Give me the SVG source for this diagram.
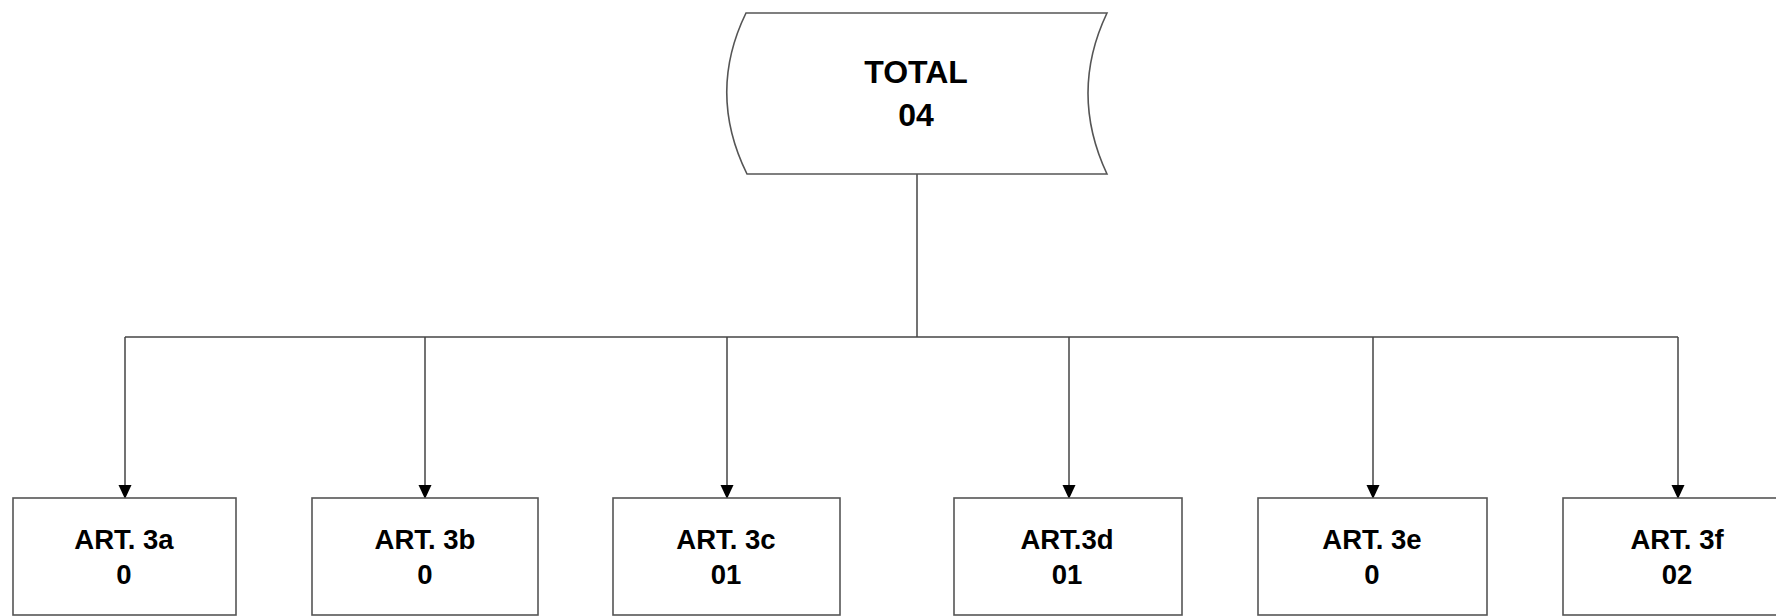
<svg xmlns="http://www.w3.org/2000/svg" width="1776" height="616" viewBox="0 0 1776 616">
<style>
.box{fill:#fff;stroke:#555;stroke-width:1.6}
.lbl{font-family:"Liberation Sans",Arial,sans-serif;font-weight:bold;fill:#000;text-anchor:middle}
.t1{font-size:32px}
.t2{font-size:27.5px}
.con{fill:none;stroke:#444;stroke-width:1.5}
</style>
<defs>
<marker id="arr" markerWidth="14" markerHeight="15" refX="14" refY="7" orient="auto" markerUnits="userSpaceOnUse" viewBox="0 0 15 14">
<path d="M0,0 L15,7 L0,14 Z" fill="#000"/>
</marker>
</defs>
<rect width="1776" height="616" fill="#fff"/>
<g id="connectors">
<path class="con" d="M917,174 V337"/>
<path class="con" d="M125,337 H1678"/>
<path class="con" d="M125,337 V498" marker-end="url(#arr)"/>
<path class="con" d="M425,337 V498" marker-end="url(#arr)"/>
<path class="con" d="M727,337 V498" marker-end="url(#arr)"/>
<path class="con" d="M1069,337 V498" marker-end="url(#arr)"/>
<path class="con" d="M1373,337 V498" marker-end="url(#arr)"/>
<path class="con" d="M1678,337 V498" marker-end="url(#arr)"/>
</g>
<g id="total">
<path class="box" d="M746,13 L1107,13 Q1069,93 1107,174 L747,174 Q707,93 746,13 Z"/>
<text class="lbl t1" x="916" y="83">TOTAL</text>
<text class="lbl t1" x="916" y="126">04</text>
</g>
<g id="art3a">
<rect class="box" x="13" y="498" width="223" height="117"/>
<text class="lbl t2" x="124" y="549">ART. 3a</text>
<text class="lbl t2" x="124" y="584">0</text>
</g>
<g id="art3b">
<rect class="box" x="312" y="498" width="226" height="117"/>
<text class="lbl t2" x="425" y="549">ART. 3b</text>
<text class="lbl t2" x="425" y="584">0</text>
</g>
<g id="art3c">
<rect class="box" x="613" y="498" width="227" height="117"/>
<text class="lbl t2" x="726" y="549">ART. 3c</text>
<text class="lbl t2" x="726" y="584">01</text>
</g>
<g id="art3d">
<rect class="box" x="954" y="498" width="228" height="117"/>
<text class="lbl t2" x="1067" y="549">ART.3d</text>
<text class="lbl t2" x="1067" y="584">01</text>
</g>
<g id="art3e">
<rect class="box" x="1258" y="498" width="229" height="117"/>
<text class="lbl t2" x="1372" y="549">ART. 3e</text>
<text class="lbl t2" x="1372" y="584">0</text>
</g>
<g id="art3f">
<rect class="box" x="1563" y="498" width="230" height="117"/>
<text class="lbl t2" x="1677" y="549">ART. 3f</text>
<text class="lbl t2" x="1677" y="584">02</text>
</g>
</svg>
